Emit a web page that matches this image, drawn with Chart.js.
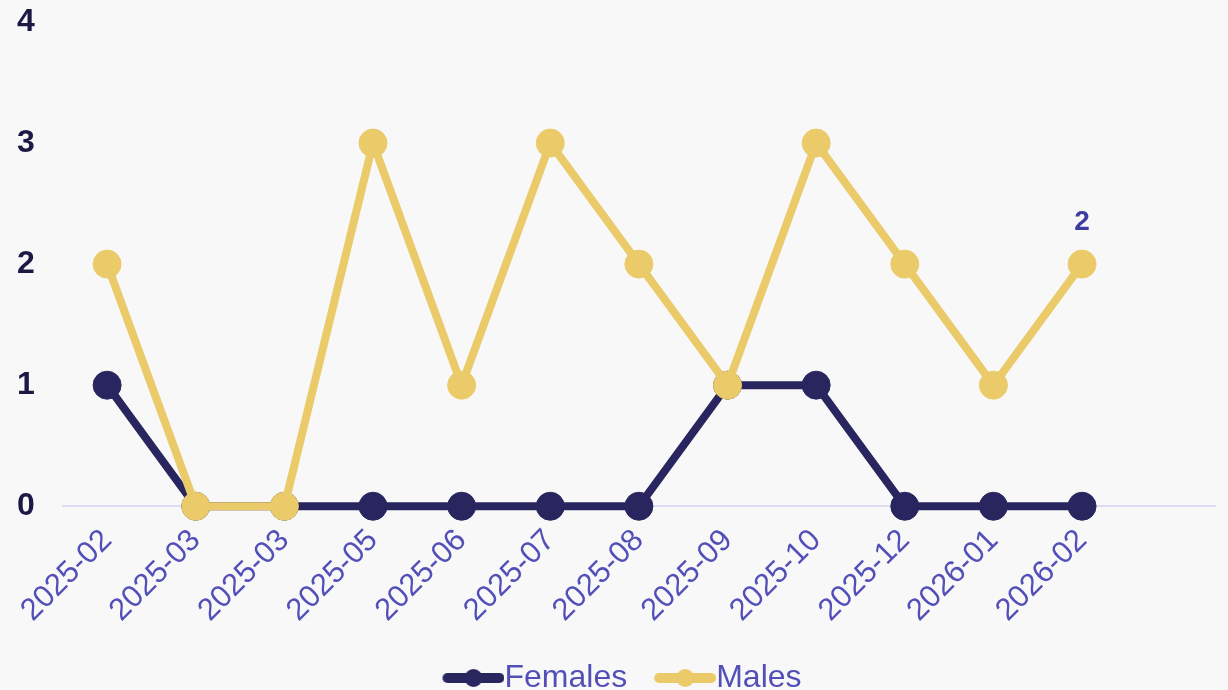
<!DOCTYPE html>
<html>
<head>
<meta charset="utf-8">
<script src="https://cdn.jsdelivr.net/npm/chart.js@4/dist/chart.umd.min.js"></script>
<style>
  html, body { margin: 0; padding: 0; background: #f8f8f8; }
  #wrap { width: 1228px; height: 690px; }
</style>
</head>
<body>
<div id="wrap"><canvas id="genderChart"></canvas></div>
<script>
// chart data
const months  = ['2025-02', '2025-03', '2025-03', '2025-05', '2025-06', '2025-07', '2025-08', '2025-09', '2025-10', '2025-12', '2026-01', '2026-02', ''];
const females = [1, 0, 0, 0, 0, 0, 0, 1, 1, 0, 0, 0];
const males   = [2, 0, 0, 3, 1, 3, 2, 1, 3, 2, 1, 2];
const yTicks  = [0, 1, 2, 3, 4];

const navy   = '#29265f';
const yellow = '#eaca69';
const purple = '#5250b8';
const font   = "'Liberation Sans', Arial, sans-serif";

// legend marker: line with a dot in the middle (left side kept empty as gap)
function legendMarker(color) {
    const gap = 18;
    const c = document.createElement('canvas');
    c.width = 62 + gap; c.height = 20;
    const ctx = c.getContext('2d');
    ctx.strokeStyle = color;
    ctx.lineWidth = 10;
    ctx.lineCap = 'round';
    ctx.beginPath();
    ctx.moveTo(gap + 5, 10);
    ctx.lineTo(gap + 57, 10);
    ctx.stroke();
    ctx.fillStyle = color;
    ctx.beginPath();
    ctx.arc(gap + 31, 10, 9, 0, Math.PI * 2);
    ctx.fill();
    return c;
}

// shows the last value of Males above its point
const lastLabel = {
    id: 'lastLabel',
    afterDatasetsDraw(chart) {
        const idx = chart.data.datasets.findIndex(d => d.label === 'Males');
        const meta = chart.getDatasetMeta(idx);
        const last = meta.data[males.length - 1];
        const ctx = chart.ctx;
        ctx.save();
        ctx.font = 'bold 28px ' + font;
        ctx.fillStyle = '#3f3ca3';
        ctx.textAlign = 'center';
        ctx.textBaseline = 'middle';
        ctx.fillText(String(males[males.length - 1]), last.x, last.y - 42);
        ctx.restore();
    }
};

// nudge the legend a bit to the right
const legendShift = {
    id: 'legendShift',
    afterLayout(chart) {
        if (chart.legend) {
            chart.legend.left += 15;
            chart.legend.right += 15;
        }
    }
};

new Chart(document.getElementById('genderChart'), {
    type: 'line',
    data: {
        labels: months,
        datasets: [{
            label: 'Males',
            data: males,
            borderColor: yellow,
            backgroundColor: yellow,
            pointBackgroundColor: yellow,
            pointBorderColor: yellow,
            pointBorderWidth: 1,
            borderWidth: 8,
            pointRadius: 14,
            tension: 0,
            clip: false
        }, {
            label: 'Females',
            data: females,
            borderColor: navy,
            backgroundColor: navy,
            pointBackgroundColor: navy,
            pointBorderColor: navy,
            pointBorderWidth: 1,
            borderWidth: 8,
            pointRadius: 14,
            tension: 0,
            clip: false
        }]
    },
    options: {
        responsive: true,
        maintainAspectRatio: false,
        animation: false,
        layout: { autoPadding: false, padding: { top: 0, right: 13, left: -3, bottom: -14 } },
        scales: {
            x: {
                offset: true,
                grid: { display: false },
                border: { display: true, color: '#dedcf2', width: 2 },
                ticks: {
                    color: purple,
                    font: { family: font, size: 31 },
                    minRotation: 45,
                    maxRotation: 45,
                    autoSkip: false,
                    padding: 8
                }
            },
            y: {
                min: yTicks[0],
                max: yTicks[yTicks.length - 1],
                grid: { display: false },
                border: { display: false },
                afterBuildTicks: axis => { axis.ticks = yTicks.map(v => ({ value: v })); },
                ticks: {
                    color: '#1c1a45',
                    // small lineHeight so the top label does not push the plot down
                    font: { family: font, size: 32, weight: 'bold', lineHeight: 0.125 },
                    padding: 20
                }
            }
        },
        plugins: {
            tooltip: { enabled: false },
            legend: {
                position: 'bottom',
                labels: {
                    usePointStyle: true,
                    pointStyleWidth: 48,
                    padding: 25,
                    color: purple,
                    font: { family: font, size: 32 },
                    generateLabels: chart => chart.data.datasets.slice().reverse().map(ds => ({
                        text: ds.label,
                        pointStyle: legendMarker(ds.borderColor),
                        fontColor: purple,
                        fillStyle: ds.borderColor,
                        strokeStyle: ds.borderColor,
                        lineWidth: 0,
                        hidden: false,
                        datasetIndex: chart.data.datasets.indexOf(ds)
                    }))
                }
            }
        }
    },
    plugins: [lastLabel, legendShift]
});
</script>
</body>
</html>
